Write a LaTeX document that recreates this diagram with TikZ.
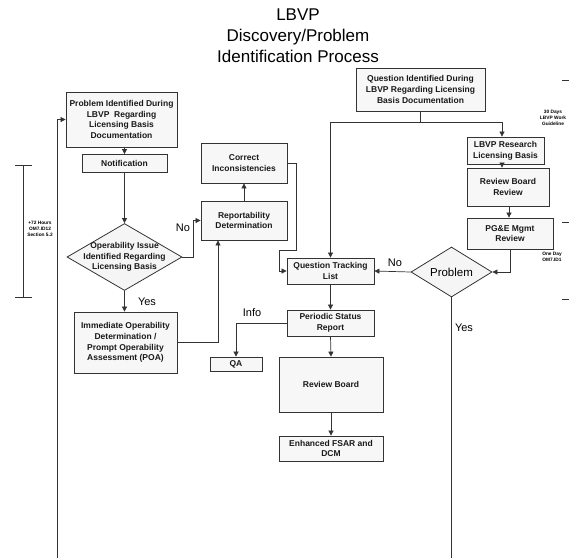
\documentclass[tikz,border=0pt]{standalone}
\usepackage{fontspec}
\setmainfont{Liberation Sans}
\usetikzlibrary{arrows.meta,shapes.geometric}
\tikzset{
 boxn/.style={draw=black!80, line width=0.8pt, fill=black!3, align=center, inner sep=1pt, font=\bfseries\fontsize{8.5}{10.8}\selectfont, text=black!90},
 dia/.style={draw=black!80, line width=0.8pt, fill=black!4, shape=diamond, inner sep=0pt},
 wire/.style={draw=black!80, line width=0.7pt},
 arr/.style={wire, -{Triangle[length=5pt,width=5pt]}},
 lbl/.style={font=\fontsize{11}{13}\selectfont, inner sep=0pt},
 tinyt/.style={font=\bfseries\fontsize{4.8}{6}\selectfont, align=center, inner sep=0pt},
 ttl/.style={font=\fontsize{17}{20}\selectfont, inner sep=0pt, anchor=base},
}
\begin{document}
\begin{tikzpicture}[x=1pt,y=-1pt]
\useasboundingbox (0,0) rectangle (569,558);
% title
\node[ttl] (t1) at (298,20) {LBVP};
\node[ttl] (t2) at (298,41) {Discovery/Problem};
\node[ttl] (t3) at (298,62) {Identification Process};
% left column
\node[boxn, minimum width=111, minimum height=55] (p1) at (121.5,119.5) {Problem Identified During\\LBVP\ \ Regarding\\Licensing Basis\\Documentation};
\node[boxn, minimum width=85, minimum height=18] (notif) at (124.5,163.5) {Notification};
\node[dia, minimum width=115, minimum height=67] (d1) at (124.5,257) {};
\node[font=\bfseries\fontsize{8.5}{10.3}\selectfont, align=center, inner sep=0pt, text=black!90] (d1t) at (d1.center) {Operability Issue\\Identified Regarding\\Licensing Basis};
\node[boxn, minimum width=103, minimum height=61] (poa) at (125.5,342.5) {Immediate Operability\\Determination /\\Prompt Operability\\Assessment (POA)};
\node[boxn, minimum width=86, minimum height=40] (ci) at (244,163) {Correct\\Inconsistencies};
\node[boxn, minimum width=86, minimum height=39] (rep) at (244,220.5) {Reportability\\Determination};
% right part
\node[boxn, minimum width=129, minimum height=43] (q) at (420.5,89.5) {Question Identified During\\LBVP Regarding Licensing\\Basis Documentation};
\node[boxn, minimum width=77, minimum height=27] (lr) at (505.5,150.5) {LBVP Research\\Licensing Basis};
\node[boxn, minimum width=82, minimum height=38] (rbr) at (508,187) {Review Board\\Review};
\node[boxn, minimum width=86, minimum height=31] (pge) at (510,233.5) {PG\&E Mgmt\\Review};
\node[dia, minimum width=81, minimum height=50] (pd) at (451.5,272) {};
\node[font=\fontsize{11.5}{13}\selectfont, inner sep=0pt] (pdt) at (pd.center) {Problem};
\node[boxn, minimum width=87, minimum height=26] (qtl) at (330.5,271) {Question Tracking\\List};
\node[boxn, minimum width=87, minimum height=26] (per) at (330.5,323) {Periodic Status\\Report};
\node[boxn, minimum width=52, minimum height=14] (qa) at (236,364) {QA};
\node[boxn, minimum width=104, minimum height=55] (rb) at (331,384.5) {Review Board};
\node[boxn, minimum width=104, minimum height=25] (enh) at (331,448.5) {Enhanced FSAR and\\DCM};
% labels
\node[lbl] (no1) at (183,228) {No};
\node[lbl] (yes1) at (147,302) {Yes};
\node[lbl] (info) at (252,313) {Info};
\node[lbl] (no2) at (395,263) {No};
\node[lbl] (yes2) at (464,328) {Yes};
% annotations
\node[tinyt] (a1) at (40,229) {+72 Hours\\OM7.ID12\\Section 5.2};
\node[tinyt] (a2) at (553,118) {30 Days\\LBVP Work\\Guideline};
\node[tinyt] (a3) at (552,257) {One Day\\OM7.ID1};
\coordinate (la1) at (23,165);
\coordinate (la2) at (23,297);
\draw[wire] (la1) -- (la2);
\draw[wire] ([xshift=-8]la1) -- ([xshift=9]la1);
\draw[wire] ([xshift=-8]la2) -- ([xshift=9]la2);
\coordinate (rt1) at (562,80);
\coordinate (rt2) at (562,222);
\coordinate (rt3) at (562,299);
\draw[wire] (rt1) -- ++(7,0);
\draw[wire] (rt2) -- ++(7,0);
\draw[wire] (rt3) -- ++(7,0);
% connectors left
\draw[arr] (notif.north |- p1.south) -- (notif.north);
\draw[arr] (notif.south) -- (d1.north);
\draw[arr] (d1.south) -- (d1.south |- poa.north);
\coordinate (c1) at (193,0);
\draw[arr] (d1.east) -- (c1 |- d1.east) -- (c1 |- rep.west) -- (rep.west);
\coordinate (c2) at (218,0);
\draw[arr] (poa.east) -| (c2 |- rep.south);
\draw[arr] (rep.north) -- (ci.south);
\coordinate (c3) at (296,250);
\coordinate (c4) at (279,250);
\draw[arr] (ci.east) -| (c3) -- (c4) |- (qtl.west);
% connectors right
\coordinate (c5) at (420.5,122);
\draw[wire] (q.south) -- (c5);
\draw[arr] (c5) -| (qtl.north);
\draw[arr] (c5) -| (502,0 |- lr.north);
\draw[arr] (502,0 |- lr.south) -- (502,0 |- rbr.north);
\draw[arr] (509,0 |- rbr.south) -- (509,0 |- pge.north);
\draw[arr] (510,0 |- pge.south) |- (pd.east);
\draw[arr] (pd.west) -- (qtl.east);
\coordinate (pend) at (451.5,558);
\draw[wire] (pd.south) -- (pend);
\draw[arr] (qtl.south) -- (per.north);
\draw[arr] (per.west) -| (qa.north);
\draw[arr] (per.south) -- (rb.north);
\draw[arr] (rb.south) -- (enh.north);
\coordinate (fb) at (57,558);
\draw[arr] (fb) |- (p1.west);
\end{tikzpicture}
\end{document}
